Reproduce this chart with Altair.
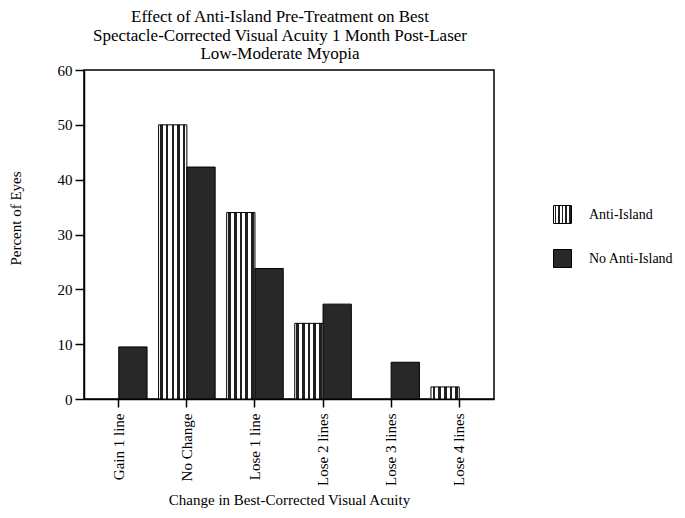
import altair as alt
import pandas as pd

categories = ["Gain 1 line", "No Change", "Lose 1 line", "Lose 2 lines", "Lose 3 lines", "Lose 4 lines"]
anti_island = [0, 50, 34, 13.8, 0, 2.2]
no_anti_island = [9.5, 42.3, 23.8, 17.3, 6.7, 0]
groups = ["Anti-Island", "No Anti-Island"]

rows = []
for c, a, n in zip(categories, anti_island, no_anti_island):
    rows.append({"cat": c, "group": groups[0], "value": a})
    rows.append({"cat": c, "group": groups[1], "value": n})
df = pd.DataFrame(rows)

# vertical stripe pattern (approximation of the zig-zag hatch)
stops = ["{offset:0,color:'#ffffff'}"]
for i in range(5):
    a = i * 0.2 + 0.06
    b = a + 0.09
    stops += [f"{{offset:{a:.3f},color:'#ffffff'}}", f"{{offset:{a:.3f},color:'#202020'}}",
              f"{{offset:{b:.3f},color:'#202020'}}", f"{{offset:{b:.3f},color:'#ffffff'}}"]
stops.append("{offset:1,color:'#ffffff'}")
grad_expr = "{gradient:'linear',x1:0,y1:0,x2:1,y2:0,stops:[" + ",".join(stops) + "]}"

FONT = "Liberation Serif"

chart = alt.Chart(df).transform_filter("datum.value > 0").mark_bar(
    stroke="black", strokeWidth=1, opacity=1
).encode(
    x=alt.X("cat:N", sort=categories,
            scale=alt.Scale(paddingInner=0.169, paddingOuter=0.095),
            axis=alt.Axis(title="Change in Best-Corrected Visual Acuity", labelAngle=270,
                          labelAlign="right", labelBaseline="middle", labelPadding=6,
                          tickSize=8, tickColor="black", domainColor="black",
                          labelFont=FONT, labelFontSize=15, labelColor="black",
                          titleFont=FONT, titleFontSize=15, titleFontWeight="normal",
                          titleColor="black", titleY=100, titleBaseline="middle")),
    xOffset=alt.XOffset("group:N", sort=groups, scale=alt.Scale(domain=groups)),
    y=alt.Y("value:Q", scale=alt.Scale(domain=[0, 60], nice=False),
            axis=alt.Axis(title="Percent of Eyes", values=[0, 10, 20, 30, 40, 50, 60],
                          grid=False, tickSize=9, labelPadding=3, tickColor="black",
                          domainColor="black", labelFont=FONT, labelFontSize=15,
                          labelColor="black", titleFont=FONT, titleFontSize=15,
                          titleFontWeight="normal", titleColor="black",
                          titleX=-69, titleY=148, titleAngle=270, titleAlign="center",
                          titleBaseline="middle")),
    fill=alt.Fill("group:N", sort=groups,
                  scale=alt.Scale(domain=groups, range=[{"expr": grad_expr}, "#282828"]),
                  legend=alt.Legend(title=None, orient="none", legendX=469, legendY=135,
                                    symbolType="square", symbolSize=324,
                                    symbolStrokeColor="black", symbolStrokeWidth=1,
                                    symbolOpacity=1, rowPadding=21, labelOffset=17,
                                    labelFont=FONT, labelFontSize=14, labelColor="black",
                                    labelLimit=200, padding=0)),
).properties(
    width=410, height=329,
    title=alt.TitleParams(
        text=["Effect of Anti-Island Pre-Treatment on Best",
              "Spectacle-Corrected Visual Acuity 1 Month Post-Laser",
              "Low-Moderate Myopia"],
        font=FONT, fontSize=17, fontWeight="normal", color="black",
        anchor="middle", lineHeight=18.5, offset=0, dx=-9),
    autosize=alt.AutoSizeParams(type="none"),
    padding={"left": 76, "top": 62, "right": 183, "bottom": 110},
).configure_view(stroke="black", strokeWidth=1.5).configure_axis(domainWidth=1.5, tickWidth=1.5)

chart.save("out.html", embed_options={"renderer": "svg", "actions": False})
